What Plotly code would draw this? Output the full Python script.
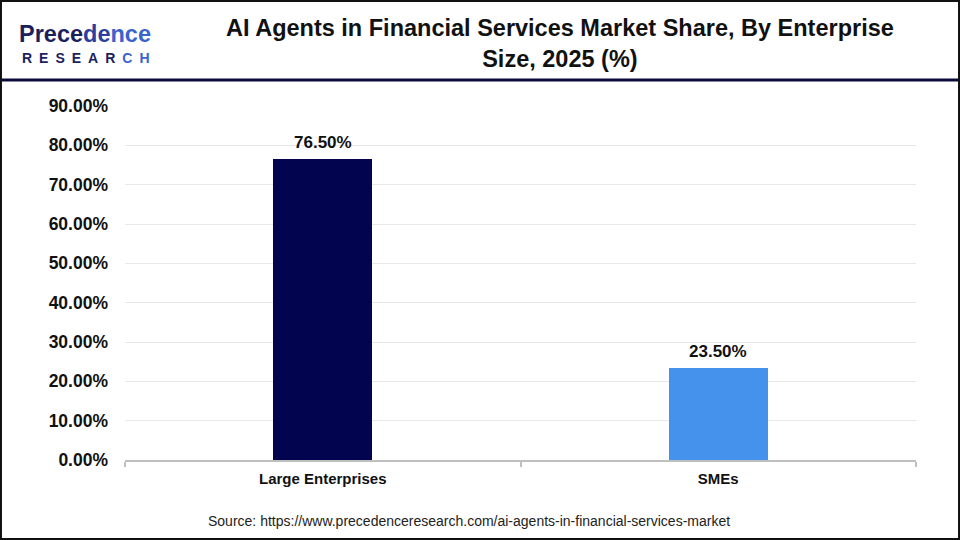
import plotly.graph_objects as go

categories = ["Large Enterprises", "SMEs"]
values = [76.50, 23.50]
bar_colors = ["#02044F", "#4592EC"]
tick_vals = [0, 10, 20, 30, 40, 50, 60, 70, 80, 90]
tick_text = [f"{v:.2f}%" for v in tick_vals]
title_text = "AI Agents in Financial Services Market Share, By Enterprise<br>Size, 2025 (%)"
source_text = "Source: https://www.precedenceresearch.com/ai-agents-in-financial-services-market"

FONT = "Liberation Sans, Arial, sans-serif"

fig = go.Figure()
fig.add_trace(go.Bar(
    x=categories, y=values,
    marker=dict(color=bar_colors, line=dict(width=0)),
    width=0.25,
    hoverinfo="x+y",
))

for c, v in zip(categories, values):
    fig.add_annotation(
        x=c, y=v, xref="x", yref="y", text=f"{v:.2f}%", showarrow=False,
        yanchor="bottom", yshift=5,
        font=dict(family=FONT, size=17, color="#111111", weight="bold"),
    )

fig.update_layout(
    width=960, height=540,
    margin=dict(l=125, r=44, t=106, b=80),
    paper_bgcolor="white", plot_bgcolor="white",
    showlegend=False,
    bargap=0,
    xaxis=dict(
        showline=True, linecolor="#BFBFBF", linewidth=2,
        ticks="outside", tickson="boundaries", ticklen=5, tickcolor="#BFBFBF", tickwidth=2,
        ticklabelstandoff=4,
        tickfont=dict(family=FONT, size=15, color="#111111", weight="bold"),
        showgrid=False,
    ),
    yaxis=dict(
        range=[0, 90], tickvals=tick_vals, ticktext=tick_text,
        showgrid=True, gridcolor="#E8E8E8", gridwidth=1,
        zeroline=False, showline=False, ticks="", ticklabelstandoff=16,
        tickfont=dict(family=FONT, size=17.5, color="#111111", weight="bold"),
    ),
)

# Title
fig.add_annotation(
    text=title_text, xref="paper", yref="paper", x=0.55, y=1.2627,
    xanchor="center", yanchor="top", showarrow=False, align="center",
    font=dict(family=FONT, size=23.5, color="#111111", weight="bold"),
)
# Logo
fig.add_annotation(
    text="<span style='color:#1B1F5E'>Prece</span><span style='color:#2A3F9E'>de</span><span style='color:#3A63CC'>nce</span>",
    xref="paper", yref="paper", x=-0.136, y=1.2034,
    xanchor="left", yanchor="middle", showarrow=False,
    font=dict(family=FONT, size=23.5, color="#1B1F5E", weight="bold"),
)
fig.add_annotation(
    text="<span style='color:#1B1F5E'>R\u2002E\u2002S\u2002E\u2002A\u2002R\u2002</span><span style='color:#3A63CC'>C\u2002H</span>",
    xref="paper", yref="paper", x=-0.133, y=1.1356,
    xanchor="left", yanchor="middle", showarrow=False,
    font=dict(family=FONT, size=14, color="#1B1F5E", weight="bold"),
)
# Source
fig.add_annotation(
    text=source_text, xref="paper", yref="paper", x=0.435, y=-0.1723,
    xanchor="center", yanchor="middle", showarrow=False,
    font=dict(family=FONT, size=14, color="#222222"),
)
# Header separator and border
fig.add_shape(type="line", xref="paper", yref="paper", x0=-0.2, x1=1.1, y0=1.0734, y1=1.0734,
              line=dict(color="#0B0B3B", width=3))
fig.add_shape(type="rect", xref="paper", yref="paper", x0=-0.1568, x1=1.0544, y0=-0.223, y1=1.2966,
              line=dict(color="#111111", width=2))

fig.write_html(
    "out.html",
    config={"displayModeBar": False},
    post_script="document.body.style.margin='0';document.body.style.overflow='hidden';",
)
